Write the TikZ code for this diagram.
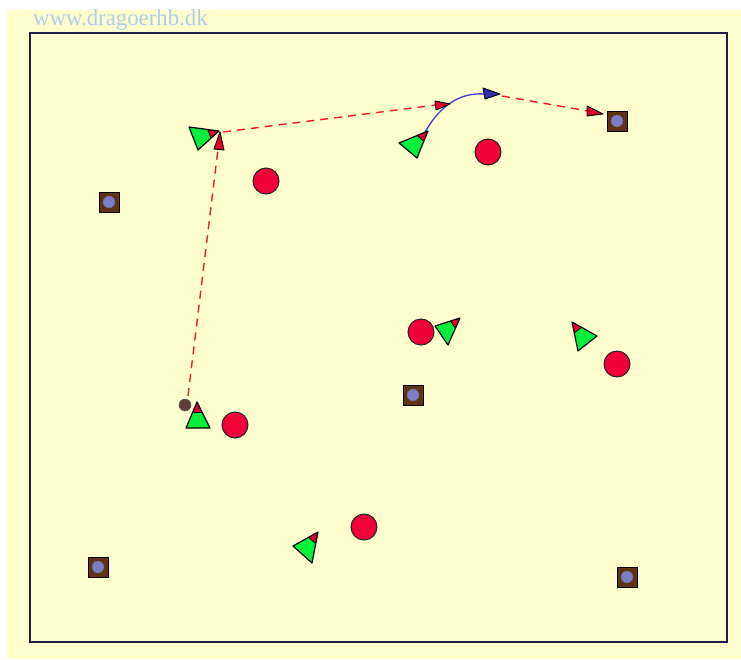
\documentclass[tikz,border=0pt]{standalone}
\usepackage{fontspec}
\setmainfont{Liberation Serif}
\usetikzlibrary{calc}
\begin{document}
\begin{tikzpicture}[x=1pt,y=-1pt,
  pitchbg/.style={fill=bgyellow,draw=none},
  pitchline/.style={draw=linenavy,line width=2pt},
  ballred/.style={circle,fill=ballcol,draw=black!85,line width=1pt,minimum size=26pt,inner sep=0pt},
  pathdash/.style={draw=dashred,line width=1.4pt,dash pattern=on 8pt off 6pt},
  runline/.style={draw=runblue,line width=1.3pt},
  headshape/.style={draw=black,line width=1.2pt,line join=round},
  cone/.style={rectangle,fill=conebrown,draw=black,line width=1pt,minimum size=20pt,inner sep=0pt},
  conedot/.style={circle,fill=conedotcol,draw=black!60,line width=0.5pt,minimum size=12pt,inner sep=0pt},
  puck/.style={circle,fill=puckcol,draw=black!60,line width=0.6pt,minimum size=12pt,inner sep=0pt}
]
\definecolor{bgyellow}{RGB}{255,255,206}
\definecolor{linenavy}{RGB}{30,30,70}
\definecolor{ballcol}{RGB}{240,0,55}
\definecolor{dashred}{RGB}{240,30,30}
\definecolor{runblue}{RGB}{60,60,210}
\definecolor{greenp}{RGB}{0,240,60}
\definecolor{redtip}{RGB}{225,0,40}
\definecolor{conebrown}{RGB}{95,50,20}
\definecolor{conedotcol}{RGB}{125,125,200}
\definecolor{puckcol}{RGB}{95,60,60}
\definecolor{webblue}{RGB}{175,205,240}

\useasboundingbox (0,0) rectangle (741,659);
\fill[pitchbg] (7,10) rectangle (741,659);
\node[anchor=base west,text=webblue,font=\fontsize{22.8}{24}\selectfont,inner sep=0pt] (web) at (33,25) {www.dragoerhb.dk};
\draw[pitchline] (30,33) rectangle (727,642);

% player macro: apex, base1, base2
\newcommand{\plyr}[3]{%
  \coordinate (pa) at #1; \coordinate (pb) at #2; \coordinate (pc) at #3;
  \fill[greenp] (pa) -- (pb) -- (pc) -- cycle;
  \fill[redtip] (pa) -- ($(pa)!0.38!(pb)$) -- ($(pa)!0.38!(pc)$) -- cycle;
  \draw[black,line width=0.6pt] ($(pa)!0.38!(pb)$) -- ($(pa)!0.38!(pc)$);
  \draw[headshape] (pa) -- (pb) -- (pc) -- cycle;
}
\newcommand{\cone}[2]{%
  \node[cone] (#2) at #1 {};
  \node[conedot] at (#2) {};
}

% cones
\cone{(109,202)}{c1}
\cone{(617,121)}{c2}
\cone{(413,395)}{c3}
\cone{(98,567)}{c4}
\cone{(627,577)}{c5}

% balls
\node[ballred] (b1) at (266,181) {};
\node[ballred] (b2) at (488,152) {};
\node[ballred] (b3) at (421,332) {};
\node[ballred] (b4) at (617,364) {};
\node[ballred] (b5) at (235,425) {};
\node[ballred] (b6) at (364,527) {};

% puck ball
\node[puck] (pk) at (185,405) {};

% dashed paths
\coordinate (s1) at (188,396);
\coordinate (e1) at (218,149);
\draw[pathdash] (s1) -- (e1);
\coordinate (s2) at (223,132);
\coordinate (e2) at (436,105);
\draw[pathdash] (s2) -- (e2);
\coordinate (s3) at (502,96);
\coordinate (e3) at (588,111);
\draw[pathdash] (s3) -- (e3);

% blue curved run
\coordinate (r1) at (424,134);
\coordinate (r2) at (485,94);
\draw[runline] (r1) .. controls (438,108) and (458,92) .. (r2);

% arrow heads
\fill[redtip,draw=black,line width=0.9pt,line join=round] (220,132) -- (214,149) -- (224,150) -- cycle;
\fill[redtip,draw=black,line width=0.9pt,line join=round] (450,104) -- (435,101) -- (436,110) -- cycle;
\fill[runblue!80!black,draw=black,line width=0.9pt,line join=round] (500,94) -- (483,88) -- (485,99) -- cycle;
\fill[redtip,draw=black,line width=0.9pt,line join=round] (603,114) -- (587,106) -- (587,116) -- cycle;

% players
\plyr{(219,131)}{(189,127)}{(198,150)}
\plyr{(428,131)}{(399,143)}{(417,158)}
\plyr{(197,402)}{(186,428)}{(210,428)}
\plyr{(460,318)}{(435,326)}{(448,345)}
\plyr{(572,322)}{(597,336)}{(578,351)}
\plyr{(318,532)}{(293,546)}{(312,563)}
\end{tikzpicture}
\end{document}
